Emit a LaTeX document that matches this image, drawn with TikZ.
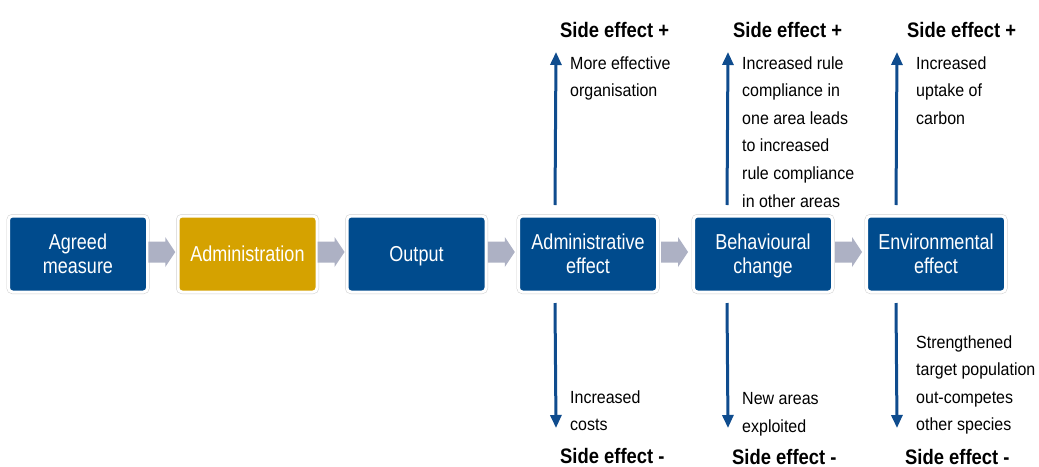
\documentclass[tikz,border=0pt]{standalone}
\usepackage{fontspec}
\usepackage{graphicx}
\setmainfont{Liberation Sans}
\usetikzlibrary{arrows.meta,calc}

\definecolor{boxblue}{HTML}{004B8D}
\definecolor{boxgold}{HTML}{D5A200}
\definecolor{flowgray}{HTML}{ADB1C4}
\definecolor{sideblue}{HTML}{0F4C8E}

% vertically stretched text line
\newcommand{\tall}[2]{\scalebox{1}[#1]{#2}}
\newcommand{\bx}[1]{\tall{1.2}{\smash{#1}\vphantom{A}}}
\newcommand{\lb}[1]{\tall{1.1}{#1}}
\newcommand{\ttl}[1]{\tall{1.14}{\bfseries #1}}

\begin{document}
\begin{tikzpicture}[x=1pt,y=-1pt,
  stage/.style={rounded corners=4pt, minimum width=139pt, minimum height=76pt,
    inner sep=0pt, outer sep=0pt, text=white, align=center,
    font=\fontsize{18}{24}\selectfont,
    preaction={draw=black!18, line width=4pt},
    draw=white, line width=3pt},
  bluestage/.style={stage, fill=boxblue},
  goldstage/.style={stage, fill=boxgold},
  note/.style={anchor=north west, inner sep=0pt, align=left,
    font=\fontsize{16}{27.6}\selectfont},
  title/.style={anchor=base west, inner sep=0pt, font=\fontsize{18.4}{22}\selectfont},
  sidearrow/.style={draw=sideblue, line width=3pt,
    -{Triangle[width=11pt,length=13pt]}},
  flow/.style={fill=flowgray}
]
\useasboundingbox (0,0) rectangle (1039,466);
\fill[white] (0,0) rectangle (1039,466);

% main chain of stages
\node[bluestage] (a) at (78,254)    {\bx{Agreed}\\\bx{measure}};
\node[goldstage] (b) at (247.5,254) {\bx{Administration}};
\node[bluestage] (c) at (416.5,254) {\bx{Output}};
\node[bluestage] (d) at (588,254)   {\bx{Administrative}\\\bx{effect}};
\node[bluestage] (e) at (763,254)   {\bx{Behavioural}\\\bx{change}};
\node[bluestage] (f) at (936,254)   {\bx{Environmental}\\\bx{effect}};

% block arrows between stages
\foreach \s/\t in {a/b,b/c,c/d,d/e,e/f}{
  \fill[flow] ($(\s.east)!0.5!(\t.west)+(-14.5,-12.5)$) -- ++(17,0) -- ++(0,-4.5)
     -- ++(10,15) -- ++(-10,15) -- ++(0,-4.5) -- ++(-17,0) -- cycle;
}

% side effect arrows
\coordinate (d-plus)  at (556,52);
\coordinate (d-minus) at (556,428);
\coordinate (e-plus)  at (728,52);
\coordinate (e-minus) at (728,428);
\coordinate (f-plus)  at (897,52);
\coordinate (f-minus) at (897,428);

\draw[sidearrow] ($(d.north west)+(36.5,-11)$) -- (d-plus);
\draw[sidearrow] ($(d.south west)+(36.5,11)$)  -- (d-minus);
\draw[sidearrow] ($(e.north west)+(33.5,-11)$) -- (e-plus);
\draw[sidearrow] ($(e.south west)+(33.5,11)$)  -- (e-minus);
\draw[sidearrow] ($(f.north west)+(29.5,-11)$) -- (f-plus);
\draw[sidearrow] ($(f.south west)+(29.5,11)$)  -- (f-minus);

% headings
\node[title] (t1) at (560,37) {\ttl{Side effect +}};
\node[title] (t2) at (733,37) {\ttl{Side effect +}};
\node[title] (t3) at (907,37) {\ttl{Side effect +}};
\node[title] (b1) at (560,463.5) {\ttl{Side effect -}};
\node[title] (b2) at (732,464) {\ttl{Side effect -}};
\node[title] (b3) at (905,464) {\ttl{Side effect -}};

% positive side effects
\node[note] (p1) at (570,56.2) {\lb{More effective}\\\lb{organisation}};
\node[note] (p2) at (742,56.2) {\lb{Increased rule}\\\lb{compliance in}\\\lb{one area leads}\\\lb{to increased}\\\lb{rule compliance}\\\lb{in other areas}};
\node[note] (p3) at (916,56.2) {\lb{Increased}\\\lb{uptake of}\\\lb{carbon}};

% negative side effects
\node[note] (n1) at (570,390.2) {\lb{Increased}\\\lb{costs}};
\node[note] (n2) at (742,392.4) {\lb{New areas}\\\lb{exploited}};
\node[note] (n3) at (916,335.2) {\lb{Strengthened}\\\lb{target population}\\\lb{out-competes}\\\lb{other species}};
\end{tikzpicture}
\end{document}
